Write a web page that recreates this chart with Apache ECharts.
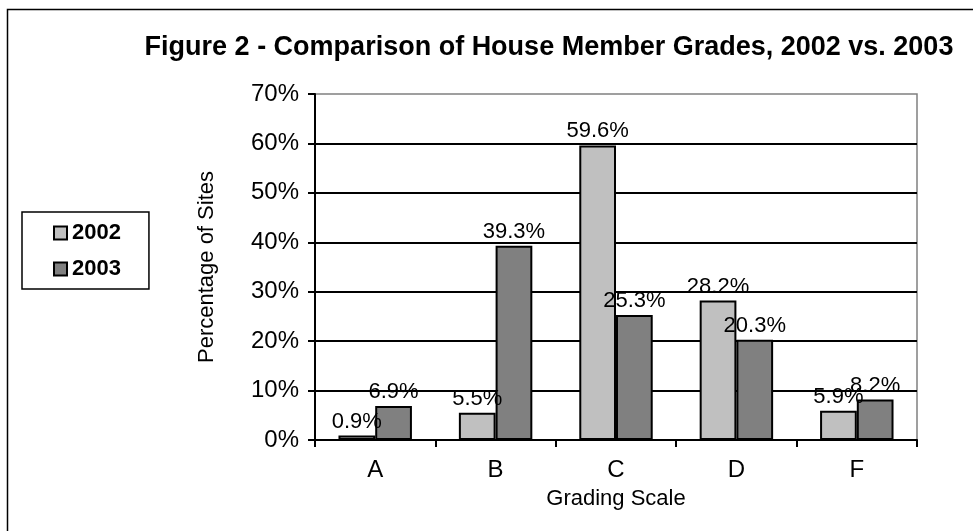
<!DOCTYPE html>
<html>
<head>
<meta charset="utf-8">
<script src="https://cdn.jsdelivr.net/npm/echarts@6/dist/echarts.min.js"></script>
<style>
html, body { margin: 0; padding: 0; background: #fff; }
#main { width: 973px; height: 531px; }
</style>
</head>
<body>
<div id="main"></div>
<script>
// grading scale categories
var grades = ['A', 'B', 'C', 'D', 'F'];
// percentage of sites per grade
var year2002 = [0.9, 5.5, 59.6, 28.2, 5.9];
var year2003 = [6.9, 39.3, 25.3, 20.3, 8.2];
var seriesNames = ['2002', '2003'];
var yTicks = [0, 10, 20, 30, 40, 50, 60, 70];

var dom = document.getElementById("main");
var myChart = echarts.init(dom);
var option = null;
var font = 'Liberation Sans, Arial, sans-serif';

option = {
    backgroundColor: '#ffffff',
    animation: false,
    textStyle: { fontFamily: font, color: '#000' },
    title: {
        text: 'Figure 2 - Comparison of House Member Grades, 2002 vs. 2003',
        left: 544,
        textAlign: 'center',
        top: 29,
        textStyle: {
            fontFamily: font,
            fontSize: 27,
            fontWeight: 'bold',
            color: '#000'
        }
    },
    graphic: [{
        type: 'rect',
        shape: { x: 7.5, y: 9.5, width: 1000, height: 600 },
        style: { fill: 'none', stroke: '#000', lineWidth: 1.5 },
        z: -10
    }],
    legend: {
        orient: 'vertical',
        left: 22,
        top: 212,
        data: seriesNames,
        backgroundColor: '#fff',
        borderColor: '#000',
        borderWidth: 1.5,
        padding: [10, 28, 9, 31],
        itemGap: 14,
        itemWidth: 13,
        itemHeight: 13,
        icon: 'rect',
        textStyle: {
            fontFamily: font,
            fontSize: 22,
            fontWeight: 'bold',
            color: '#000'
        }
    },
    grid: {
        left: 315,
        right: 56,
        top: 94,
        bottom: 91,
        show: true,
        backgroundColor: '#fff',
        borderColor: '#808080',
        borderWidth: 1.5
    },
    xAxis: {
        type: 'category',
        data: grades,
        name: 'Grading Scale',
        nameLocation: 'middle',
        nameGap: 48,
        nameTextStyle: { fontFamily: font, fontSize: 22, color: '#000' },
        axisLine: { lineStyle: { color: '#000', width: 2 } },
        axisTick: { show: true, length: 7, lineStyle: { color: '#000', width: 2 } },
        axisLabel: {
            margin: 18,
            textStyle: { fontFamily: font, fontSize: 24, color: '#000' }
        }
    },
    yAxis: {
        type: 'value',
        min: yTicks[0],
        max: yTicks[yTicks.length - 1],
        interval: 10,
        name: 'Percentage of Sites',
        nameLocation: 'middle',
        nameGap: 97,
        nameTextStyle: { fontFamily: font, fontSize: 22, color: '#000' },
        axisLine: { show: true, lineStyle: { color: '#000', width: 2 } },
        axisTick: { show: true, length: 7, lineStyle: { color: '#000', width: 2 } },
        axisLabel: {
            margin: 16,
            formatter: '{value}%',
            textStyle: { fontFamily: font, fontSize: 24, color: '#000' }
        },
        splitLine: {
            show: true,
            showMinLine: false,
            showMaxLine: false,
            lineStyle: { color: '#000', width: 2 }
        }
    },
    series: [{
        name: seriesNames[0],
        type: 'bar',
        data: year2002,
        barGap: '0%',
        barCategoryGap: '39%',
        itemStyle: { color: '#c0c0c0', borderColor: '#000', borderWidth: 2 },
        label: {
            show: true,
            position: 'top',
            distance: 3,
            formatter: '{c}%',
            fontFamily: font,
            fontSize: 22,
            color: '#000'
        }
    }, {
        name: seriesNames[1],
        type: 'bar',
        data: year2003,
        itemStyle: { color: '#808080', borderColor: '#000', borderWidth: 2 },
        label: {
            show: true,
            position: 'top',
            distance: 3,
            formatter: '{c}%',
            fontFamily: font,
            fontSize: 22,
            color: '#000'
        }
    }]
};

if (option && typeof option === "object") {
    myChart.setOption(option, true);
}
</script>
</body>
</html>
